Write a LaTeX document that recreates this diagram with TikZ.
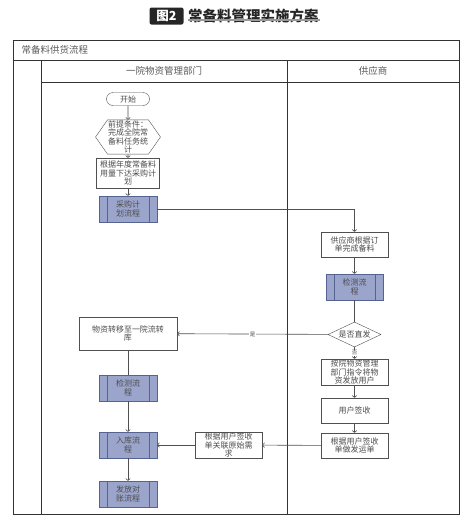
\documentclass[tikz,border=0pt]{standalone}
\usepackage{fontspec}
\setmainfont{Noto Sans CJK SC}
\usetikzlibrary{shapes.geometric,shapes.misc,shapes.symbols,arrows.meta,positioning}
\definecolor{procblue}{HTML}{9BA5CC}
\definecolor{procedge}{HTML}{56628F}
\definecolor{flowgray}{HTML}{505050}
\tikzset{
	gstate/.style={draw=flowgray, fill=white, rectangle, inner sep=0.5pt, align=center, font=\fontsize{8}{8.6}\selectfont, text=black!70},
	pstate/.style={gstate, draw=procedge, fill=procblue, minimum width=58, minimum height=26,
		path picture={
			\draw[procedge] ([xshift=8pt]path picture bounding box.north west) -- ([xshift=8pt]path picture bounding box.south west);
			\draw[procedge] ([xshift=-8pt]path picture bounding box.north east) -- ([xshift=-8pt]path picture bounding box.south east);}},
	startstate/.style={gstate, rounded rectangle, minimum width=44, minimum height=13},
	condstate/.style={gstate, signal, signal to=east and west, signal pointer angle=110, minimum width=59, minimum height=32},
	decstate/.style={gstate, diamond, aspect=2.1, inner sep=0pt, minimum width=53, minimum height=25},
	lanetext/.style={font=\fontsize{9.5}{10}\selectfont, text=black!65},
	tag/.style={fill=white, inner sep=0.5pt, font=\fontsize{5.5}{6}\selectfont, text=black!70},
	trans/.style={draw=flowgray, ->, line width=0.6pt},
	plain/.style={draw=flowgray, line width=0.6pt},
	frame/.style={draw=black!80, line width=0.9pt},
	>={To[length=2.5pt,width=5pt]}
}

\begin{document}
\begin{tikzpicture}[x=1pt, y=-1pt]
		\newcommand{\frameleft}{13}
		\newcommand{\frameright}{459}
		\newcommand{\frametop}{40}
		\newcommand{\framebottom}{514}
		\newcommand{\titlerow}{60}
		\newcommand{\headrow}{82}
		\newcommand{\laneone}{41}
		\newcommand{\lanetwo}{287}
		\newcommand{\deptcol}{128}
		\newcommand{\suppcol}{354.5}
		\useasboundingbox (0,0) rectangle (473,528);
		% heading
		\node [fill=black!85, rounded corners=2pt, text=white, font=\fontsize{12.5}{12.5}\selectfont\bfseries, inner sep=1.5pt, minimum height=17, minimum width=34] (fignum) at (166.5,16) {图2};
		\node [anchor=west, font=\fontsize{14.5}{15}\selectfont\bfseries, text=black!85, inner sep=0pt] (figtitle) at (188,16) {常备料管理实施方案};
		\draw [black!40, line width=1.6pt] (figtitle.south west) ++(0,-3) -- ++(132,0);
		% lanes
		\draw[frame] (\frameleft,\frametop) rectangle (\frameright,\framebottom);
		\draw[frame] (\frameleft,\titlerow) -- (\frameright,\titlerow);
		\draw[frame] (\laneone,\headrow) -- (\frameright,\headrow);
		\draw[frame] (\laneone,\titlerow) -- (\laneone,\framebottom);
		\draw[frame] (\lanetwo,\titlerow) -- (\lanetwo,\framebottom);
		\node [lanetext, anchor=west] (flowname) at (\frameleft+5,50) {常备料供货流程};
		\node [lanetext] (deptname) at (164,71) {一院物资管理部门};
		\node [lanetext] (suppname) at (373,71) {供应商};
		% department lane
		\node [startstate] (start) at (\deptcol,99) {开始};
		\node [condstate] (cond) at (\deptcol,137) {前提条件：\\完成全院常\\备料任务统\\计};
		\node [gstate, minimum width=63, minimum height=30] (order) at (\deptcol,173) {根据年度常备料\\用量下达采购计\\划};
		\node [pstate] (plan) at (\deptcol,209) {采购计\\划流程};
		\node [gstate, minimum width=98, minimum height=33] (transfer) at (\deptcol,333.5) {物资转移至一院流转\\库};
		\node [pstate] (check2) at (\deptcol,388) {检测流\\程};
		\node [pstate] (store) at (\deptcol,445) {入库流\\程};
		\node [pstate] (settle) at (\deptcol,494) {发放对\\账流程};
		\node [gstate, minimum width=67, minimum height=26] (link) at (228.5,445) {根据用户签收\\单关联原始需\\求};
		% supplier lane
		\node [gstate, minimum width=67, minimum height=25] (prep) at (\suppcol,244.5) {供应商根据订\\单完成备料};
		\node [pstate, minimum width=57] (check1) at (\suppcol,287) {检测流\\程};
		\node [decstate] (direct) at (\suppcol,334.5) {是否直发};
		\node [gstate, minimum width=67, minimum height=26] (deliver) at (\suppcol,372) {按院物资管理\\部门指令将物\\资发放用户};
		\node [gstate, minimum width=67, minimum height=25] (sign) at (\suppcol,410.5) {用户签收};
		\node [gstate, minimum width=67, minimum height=25] (waybill) at (\suppcol,445.5) {根据用户签收\\单做发运单};
		% connectors
		\path [trans] (start) edge (cond);
		\path [trans] (cond) edge (order);
		\path [trans] (order) edge (plan);
		\path [trans] (plan) -| (prep);
		\path [trans] (prep) edge (check1);
		\path [plain] (check1) edge (direct);
		\path [trans] (direct) edge node [tag, midway] {是} (transfer);
		\path [trans] (direct) edge node [tag, midway] {否} (deliver);
		\path [trans] (deliver) edge (sign);
		\path [trans] (sign) edge (waybill);
		\path [trans] (waybill) edge (link);
		\path [trans] (link) edge (store);
		\path [plain] (transfer) edge (check2);
		\path [trans] (check2) edge (store);
		\path [trans] (store) edge (settle);
	\end{tikzpicture}
\end{document}
